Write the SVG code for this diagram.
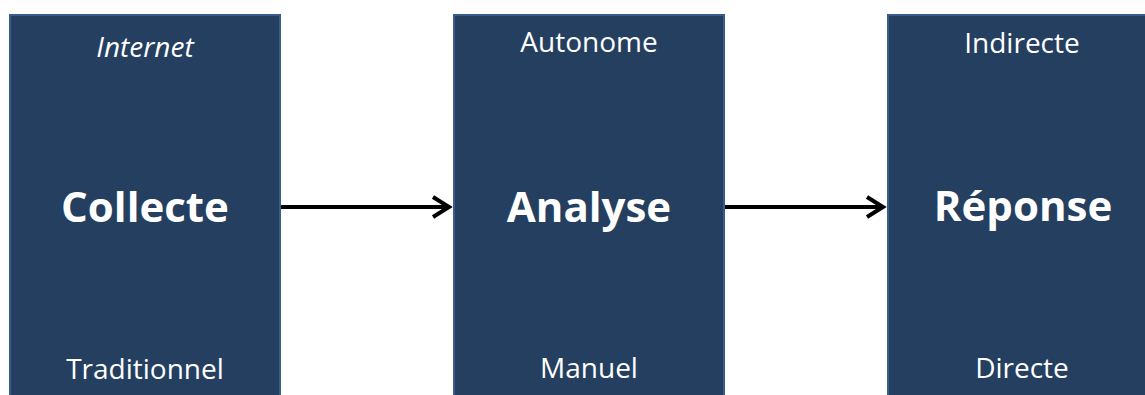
<svg xmlns="http://www.w3.org/2000/svg" width="1145" height="395" viewBox="0 0 1145 395">
<style>
.box{fill:#243f60;stroke:#385d8a;stroke-width:2}
.t{fill:#fff;font-family:"Open Sans",Lato,sans-serif;text-anchor:middle;font-variant-ligatures:none}
.main{font-size:42px;font-weight:bold}
.sub{font-size:28px}
.conn{stroke:#000;stroke-width:4;fill:none}
</style>
<rect width="1145" height="395" fill="#fff"/>
<g id="collecte">
<rect class="box" x="10" y="15" width="270" height="390"/>
<text class="t sub" x="145" y="57" font-style="italic" font-size="29">Internet</text>
<text class="t main" x="145" y="222">Collecte</text>
<text class="t sub" x="145" y="379">Traditionnel</text>
</g>
<g id="analyse">
<rect class="box" x="454" y="15" width="270" height="390"/>
<text class="t sub" x="589" y="52">Autonome</text>
<text class="t main" x="589" y="222">Analyse</text>
<text class="t sub" x="589" y="378">Manuel</text>
</g>
<g id="reponse">
<rect class="box" x="888" y="15" width="270" height="390"/>
<text class="t sub" x="1022" y="53">Indirecte</text>
<text class="t main" x="1023" y="221">Réponse</text>
<text class="t sub" x="1022" y="378">Directe</text>
</g>
<g id="connectors">
<line class="conn" x1="281" y1="207" x2="449" y2="207"/>
<polyline class="conn" points="433,197 449,207 433,217"/>
<line class="conn" x1="725" y1="207" x2="883" y2="207"/>
<polyline class="conn" points="867,197 883,207 867,217"/>
</g>
</svg>
